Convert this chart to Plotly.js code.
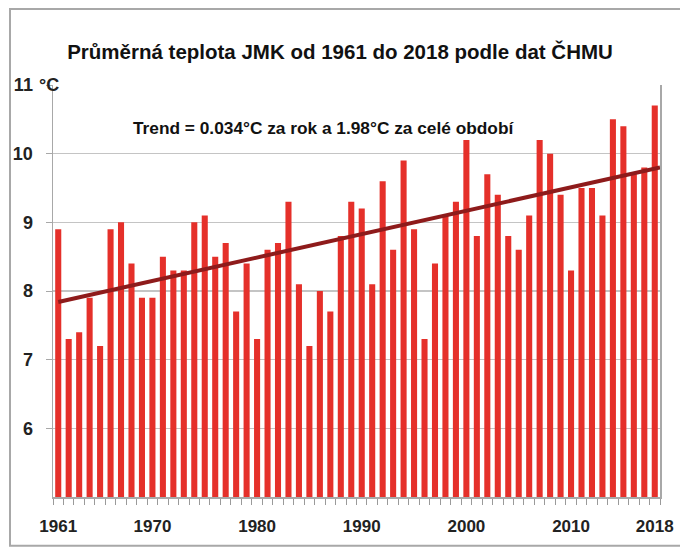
<!DOCTYPE html>
<html><head><meta charset="utf-8">
<script src="https://cdn.plot.ly/plotly-3.0.1.min.js"></script>
<style>html,body{margin:0;padding:0;background:#fff;}#chart{width:680px;height:551px;}</style>
</head><body><div id="chart"></div>
<script>
const years = [1961,1962,1963,1964,1965,1966,1967,1968,1969,1970,
  1971,1972,1973,1974,1975,1976,1977,1978,1979,1980,
  1981,1982,1983,1984,1985,1986,1987,1988,1989,1990,
  1991,1992,1993,1994,1995,1996,1997,1998,1999,2000,
  2001,2002,2003,2004,2005,2006,2007,2008,2009,2010,
  2011,2012,2013,2014,2015,2016,2017,2018];
const temps = [8.9,7.3,7.4,7.9,7.2,8.9,9.0,8.4,7.9,7.9,
  8.5,8.3,8.3,9.0,9.1,8.5,8.7,7.7,8.4,7.3,
  8.6,8.7,9.3,8.1,7.2,8.0,7.7,8.8,9.3,9.2,
  8.1,9.6,8.6,9.9,8.9,7.3,8.4,9.1,9.3,10.2,
  8.8,9.7,9.4,8.8,8.6,9.1,10.2,10.0,9.4,8.3,
  9.5,9.5,9.1,10.5,10.4,9.7,9.8,10.7];
const trendYears = [1961, 2018.5];
const trendValues = [7.84, 9.80];
const xLabelYears = [1961, 1970, 1980, 1990, 2000, 2010, 2018];
const yTickVals = [6, 7, 8, 9, 10, 11];
const yTickText = ['6', '7', '8', '9', '10', '11'];
const titleText = 'Průměrná teplota JMK od 1961 do 2018 podle dat ČHMU';
const trendText = 'Trend = 0.034°C za rok a 1.98°C za celé období';
const unitText = '°C';

const FONT = '"Liberation Sans", Arial, sans-serif';
const boldArr = arr => arr.map(s => '<b>' + s + '</b>');

const traces = [
  {type:'bar', x: years, y: temps, marker:{color:'#e5302a', line:{width:0}}, hoverinfo:'x+y', showlegend:false},
  {type:'scatter', mode:'lines', x: trendYears, y: trendValues, line:{color:'#8e1b1b', width:4}, showlegend:false, cliponaxis:false}
];

const layout = {
  width: 680, height: 551,
  margin: {l: 53, r: 20, t: 85, b: 54},
  paper_bgcolor: '#ffffff', plot_bgcolor: '#ffffff',
  bargap: 0.42,
  font: {family: FONT, color: '#1a1a1a'},
  title: {text: '<b>' + titleText + '</b>', x: 0.5, xanchor: 'center', y: 1 - 52/551, yanchor: 'middle', font: {size: 20.5, family: FONT, color: '#111'}},
  xaxis: {
    range: [1960.5, 2018.5], tickmode: 'array', tickvals: xLabelYears, ticktext: boldArr(xLabelYears.map(String)),
    ticks: '', showgrid: false, zeroline: false, showline: true, linecolor: '#a8a8a8', linewidth: 1.5,
    tickfont: {size: 17, family: FONT, color: '#222'}, ticklabelstandoff: 13,
    minor: {tickmode: 'linear', tick0: 1960.5, dtick: 1, ticks: 'outside', ticklen: 6, tickcolor: '#9a9a9a', tickwidth: 1, showgrid: false},
    fixedrange: true
  },
  yaxis: {
    range: [5, 11], tickmode: 'array', tickvals: yTickVals, ticktext: boldArr(yTickText),
    ticks: 'outside', ticklen: 6, tickcolor: '#a8a8a8', ticklabelstandoff: 9,
    showgrid: true, gridcolor: '#c4c4c4', gridwidth: 1.5, zeroline: false,
    showline: true, linecolor: '#a8a8a8', linewidth: 1.5, mirror: true,
    tickfont: {size: 18, family: FONT, color: '#222'},
    fixedrange: true
  },
  shapes: [
    {type: 'rect', xref: 'paper', yref: 'paper', x0: (10-53)/607, x1: (684-53)/607, y0: (497.3-546)/412.3, y1: (497.3-9)/412.3,
     line: {color: '#a8a8a8', width: 2}, fillcolor: 'rgba(0,0,0,0)', layer: 'below'}
  ],
  annotations: [
    {text: '<b>' + trendText + '</b>', xref: 'paper', yref: 'paper', x: (323-53)/607, y: (497.3-128)/412.3, xanchor: 'center', yanchor: 'middle', showarrow: false, font: {size: 17.3, family: FONT, color: '#111'}},
    {text: '<b>' + unitText + '</b>', xref: 'paper', yref: 'paper', x: (37-53)/607, y: 1, xanchor: 'left', yanchor: 'middle', showarrow: false, font: {size: 18, family: FONT, color: '#222'}}
  ]
};

Plotly.newPlot('chart', traces, layout, {displayModeBar: false, staticPlot: true});
</script></body></html>
